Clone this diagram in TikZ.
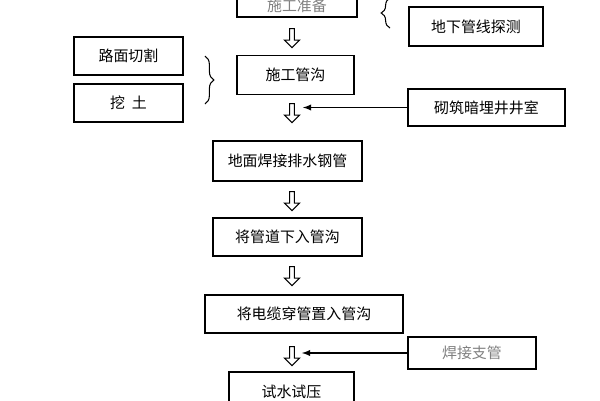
\documentclass[tikz,border=0pt]{standalone}
\usepackage{fontspec}
\setmainfont{Noto Sans CJK SC}
\usetikzlibrary{shapes.arrows,decorations.pathreplacing}
\begin{document}
\begin{tikzpicture}[x=0.02cm,y=-0.02cm,
 bx/.style={draw,line width=0.8pt,font=\fontsize{8.5}{10}\selectfont,inner sep=0pt},
 harrow/.style={single arrow,draw,line width=0.6pt,shape border rotate=270,minimum height=0.38cm,minimum width=0.3cm,single arrow head extend=0.06cm,inner sep=0.5pt},
 la/.style={-latex,line width=0.6pt},
 br/.style={decorate,decoration={brace,amplitude=5pt},line width=0.6pt}]
\useasboundingbox (0,0) rectangle (600,400);
\begin{scope}
\clip (0,0) rectangle (600,400);
\node[bx,minimum width=2.4cm,minimum height=0.44cm,text=gray] (prep) at (297,6) {施工准备};
\node[bx,minimum width=2.34cm,minimum height=0.78cm] (tr) at (295.5,75) {施工管沟};
\node[bx,minimum width=2.18cm,minimum height=0.76cm] (cut) at (128.5,56) {路面切割};
\node[bx,minimum width=2.18cm,minimum height=0.76cm] (dig) at (128.5,103) {挖\ \ 土};
\node[bx,minimum width=2.68cm,minimum height=0.78cm] (det) at (476,26.5) {地下管线探测};
\node[bx,minimum width=3.14cm,minimum height=0.74cm] (well) at (486.5,107.5) {砌筑暗埋井井室};
\node[bx,minimum width=2.98cm,minimum height=0.8cm] (weld) at (287.5,161) {地面焊接排水钢管};
\node[bx,minimum width=2.98cm,minimum height=0.76cm] (down) at (287.5,237) {将管道下入管沟};
\node[bx,minimum width=3.96cm,minimum height=0.76cm] (cable) at (304,314) {将电缆穿管置入管沟};
\node[bx,minimum width=2.56cm,minimum height=0.64cm,text=gray] (branch) at (472,353) {焊接支管};
\node[bx,minimum width=2.5cm,minimum height=0.8cm] (test) at (291.5,392) {试水试压};
\node[harrow] (a1) at (292,37) {};
\node[harrow] (a2) at (292,112) {};
\node[harrow] (a3) at (292,200) {};
\node[harrow] (a4) at (292,275) {};
\node[harrow] (a5) at (292,355) {};
\draw[br] (205,56) -- (205,104);
\draw[br] (390,28) -- (390,-2);
\draw[la] (well.west) -- ([xshift=0.22cm]a2.center |- well.west);
\draw[la] (branch.west) -- ([xshift=0.2cm]a5.center |- branch.west);
\end{scope}
\end{tikzpicture}
\end{document}
